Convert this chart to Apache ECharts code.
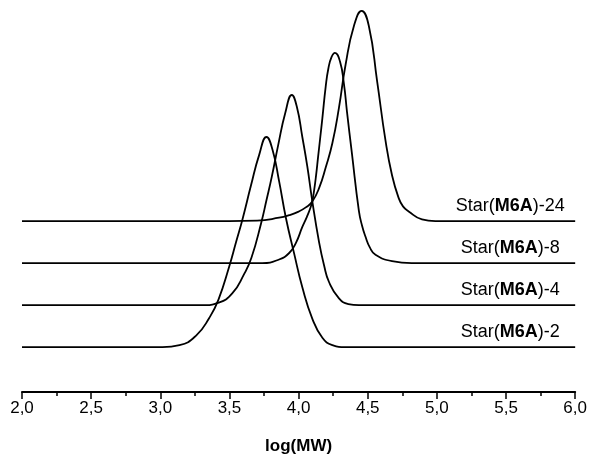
<!DOCTYPE html>
<html>
<head>
<meta charset="utf-8">
<script src="https://cdn.jsdelivr.net/npm/echarts@6/dist/echarts.min.js"></script>
<style>html,body{margin:0;padding:0;background:#fff;overflow:hidden;}#c{width:590px;height:460px;}</style>
</head>
<body>
<div id="c"></div>
<script>
// ---- data (x = log(MW), y = normalised detector response) ----
const seriesNames = ['Star(M6A)-2', 'Star(M6A)-4', 'Star(M6A)-8', 'Star(M6A)-24'];
const labelParts = [['Star(', 'M6A', ')-2'], ['Star(', 'M6A', ')-4'], ['Star(', 'M6A', ')-8'], ['Star(', 'M6A', ')-24']];
const baselineOffsets = [0, 0.2, 0.4, 0.6];

const star2X = [2.0, 3.016, 3.139, 3.259, 3.355, 3.420, 3.499, 3.548, 3.595, 3.656, 3.715, 3.768, 3.811, 3.859, 3.908, 3.968, 4.027, 4.099, 4.172, 4.244, 4.340, 6.0];
const star2Y = [0, 0, 0.009, 0.055, 0.140, 0.225, 0.385, 0.500, 0.610, 0.770, 0.915, 1.0, 0.941, 0.790, 0.616, 0.445, 0.285, 0.136, 0.045, 0.010, 0, 0];

const star4X = [2.0, 3.305, 3.423, 3.523, 3.604, 3.659, 3.729, 3.768, 3.806, 3.852, 3.904, 3.951, 3.987, 4.027, 4.063, 4.099, 4.148, 4.184, 4.220, 4.292, 4.360, 4.436, 6.0];
const star4Y = [0, 0, 0.012, 0.058, 0.145, 0.225, 0.390, 0.500, 0.610, 0.760, 0.915, 1.0, 0.945, 0.800, 0.660, 0.495, 0.300, 0.190, 0.110, 0.032, 0.005, 0, 0];

const star8X = [2.0, 3.737, 3.859, 3.932, 3.980, 4.027, 4.060, 4.085, 4.099, 4.112, 4.126, 4.141, 4.157, 4.172, 4.196, 4.215, 4.238, 4.263, 4.299, 4.328, 4.350, 4.386, 4.436, 4.460, 4.484, 4.515, 4.556, 4.676, 4.818, 6.0];
const star8Y = [0, 0, 0.017, 0.048, 0.095, 0.172, 0.220, 0.262, 0.295, 0.345, 0.415, 0.505, 0.600, 0.690, 0.840, 0.925, 0.980, 1.0, 0.960, 0.852, 0.720, 0.520, 0.249, 0.175, 0.125, 0.075, 0.040, 0.009, 0, 0];

const star24X = [2.0, 3.499, 3.700, 3.859, 3.932, 4.000, 4.052, 4.099, 4.150, 4.196, 4.244, 4.292, 4.340, 4.400, 4.456, 4.508, 4.568, 4.628, 4.676, 4.724, 4.755, 4.796, 4.892, 4.989, 6.0];
const star24Y = [0, 0, 0.002, 0.016, 0.028, 0.045, 0.065, 0.093, 0.160, 0.255, 0.370, 0.540, 0.745, 0.928, 1.0, 0.928, 0.665, 0.385, 0.217, 0.109, 0.070, 0.046, 0.008, 0, 0];

const tickLabels = ['2,0', '2,5', '3,0', '3,5', '4,0', '4,5', '5,0', '5,5', '6,0'];
const xAxisTitle = 'log(MW)';
const labelX = 5.53;

const FONT = '"Liberation Sans", Arial, Helvetica, sans-serif';
const fsLabel = 18;
const fsTick = 17;
const fsName = 17;

const xs = [star2X, star4X, star8X, star24X];
const ys = [star2Y, star4Y, star8Y, star24Y];

const series = seriesNames.map((name, i) => ({
  name: name,
  type: 'line',
  data: xs[i].map((x, k) => [x, ys[i][k] + baselineOffsets[i]]),
  smooth: 0.5,
  showSymbol: false,
  symbol: 'none',
  lineStyle: { color: '#000', width: 1.8 },
  z: 2,
  markPoint: {
    symbol: 'circle',
    symbolSize: 0,
    silent: true,
    data: [{
      coord: [labelX, baselineOffsets[i]],
      label: {
        show: true,
        position: 'inside',
        offset: [0, -15],
        align: 'center',
        verticalAlign: 'middle',
        formatter: '{n|' + labelParts[i][0] + '}{b|' + labelParts[i][1] + '}{n|' + labelParts[i][2] + '}',
        rich: {
          n: { fontFamily: FONT, fontSize: fsLabel, color: '#000' },
          b: { fontFamily: FONT, fontSize: fsLabel, color: '#000', fontWeight: 'bold' }
        }
      }
    }]
  }
}));

const chart = echarts.init(document.getElementById('c'), null, { renderer: 'canvas', width: 590, height: 460 });
chart.setOption({
  backgroundColor: '#fff',
  animation: false,
  grid: { left: 22, right: 13, top: 0, bottom: 58, containLabel: false },
  xAxis: {
    type: 'value',
    min: 2, max: 6, interval: 0.5,
    name: xAxisTitle,
    nameLocation: 'middle',
    nameGap: 46,
    nameTextStyle: { fontFamily: FONT, fontSize: fsName, fontWeight: 'bold', color: '#000' },
    axisLine: { show: true, onZero: false, lineStyle: { color: '#000', width: 2 } },
    axisTick: { show: true, inside: false, length: 7, lineStyle: { color: '#000', width: 1.5 } },
    minorTick: { show: true, splitNumber: 2, length: 4, lineStyle: { color: '#000', width: 1.5 } },
    splitLine: { show: false },
    axisLabel: {
      margin: 8,
      fontFamily: FONT, fontSize: fsTick, color: '#000',
      formatter: v => tickLabels[Math.round((v - 2) / 0.5)]
    }
  },
  yAxis: { type: 'value', min: -0.2135, max: 1.652, show: false },
  series: series
});
</script>
</body>
</html>
